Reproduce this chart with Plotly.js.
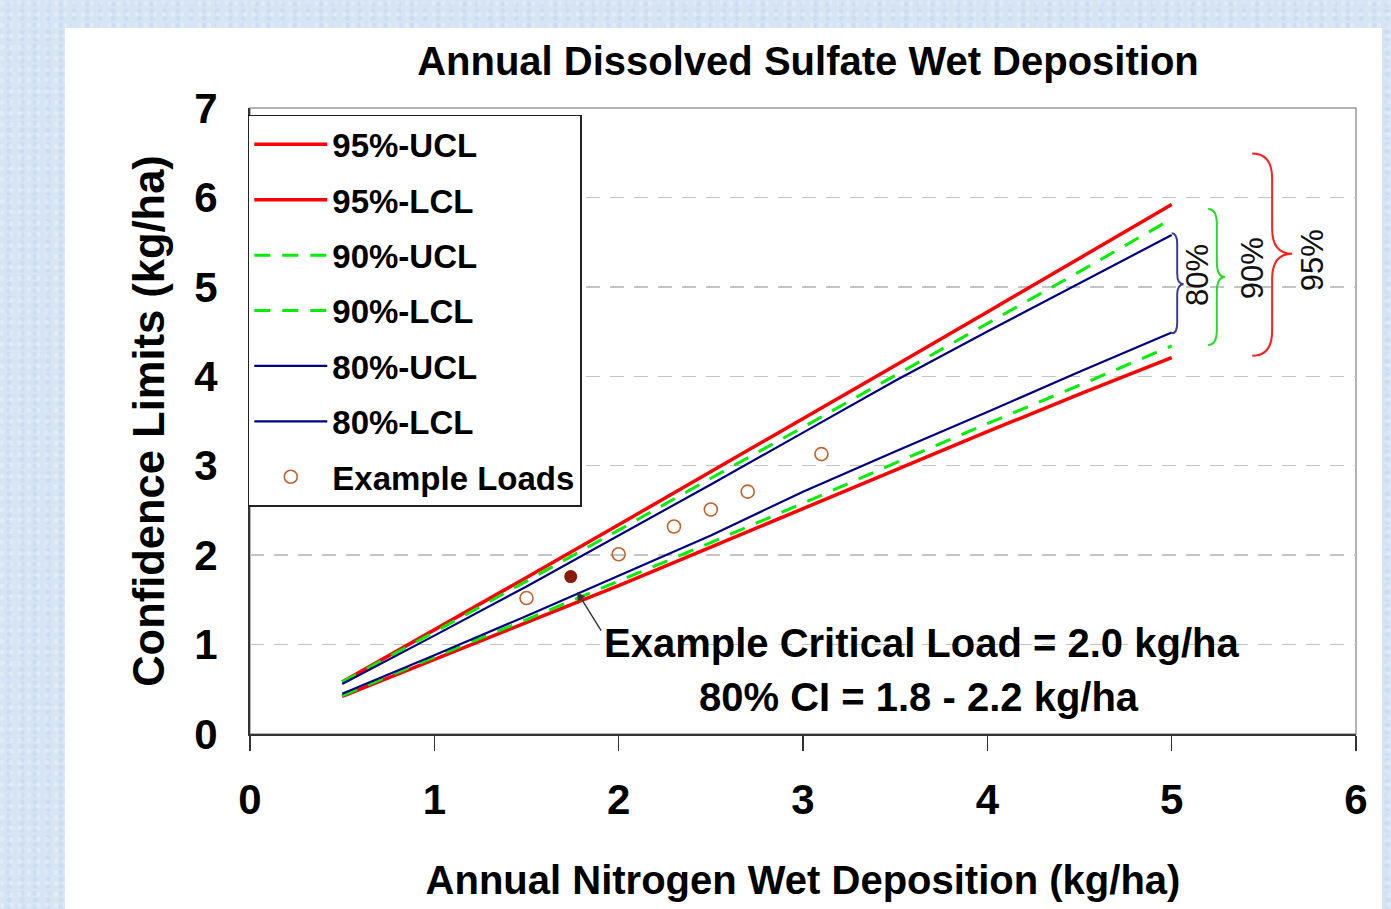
<!DOCTYPE html>
<html>
<head>
<meta charset="utf-8">
<script src="https://cdn.plot.ly/plotly-3.0.1.min.js"></script>
<style>
  html, body { margin: 0; padding: 0; width: 1391px; height: 909px; overflow: hidden;
    background: #d7e4f4; }
  body { background-image:
    radial-gradient(circle at 20% 30%, rgba(255,255,255,0.25) 0 2px, transparent 3px),
    radial-gradient(circle at 70% 60%, rgba(170,195,230,0.25) 0 2px, transparent 3px);
    background-size: 9px 11px, 13px 7px; }
  #chart { position: absolute; left: 65px; top: 28px; width: 1317px; height: 881px; background: #fff; }
</style>
</head>
<body>
<div id="chart"></div>
<script>
// ---- data ----
const nDep = [0.5, 1, 1.5, 2, 2.5, 3, 3.5, 4, 4.5, 5];
const ucl95 = [0.58, 1.16, 1.75, 2.34, 2.93, 3.52, 4.12, 4.72, 5.32, 5.92];
const lcl95 = [0.42, 0.83, 1.24, 1.66, 2.09, 2.52, 2.96, 3.38, 3.80, 4.21];
const ucl90 = [0.58, 1.14, 1.71, 2.28, 2.86, 3.43, 4.01, 4.59, 5.17, 5.76];
const lcl90 = [0.43, 0.86, 1.28, 1.71, 2.14, 2.58, 3.03, 3.47, 3.90, 4.34];
const ucl80 = [0.56, 1.10, 1.65, 2.22, 2.79, 3.37, 3.95, 4.50, 5.04, 5.58];
const lcl80 = [0.45, 0.88, 1.32, 1.77, 2.22, 2.71, 3.16, 3.60, 4.05, 4.49];
const loadsX = [1.5, 2.0, 2.3, 2.5, 2.7, 3.1];
const loadsY = [1.52, 2.01, 2.32, 2.51, 2.71, 3.13];
const critX = [1.74];
const critY = [1.76];
const xTicks = [0, 1, 2, 3, 4, 5, 6];
const yTicks = [0, 1, 2, 3, 4, 5, 6, 7];
const seriesNames = ['95%-UCL', '95%-LCL', '90%-UCL', '90%-LCL', '80%-UCL', '80%-LCL', 'Example Loads'];

const SANS = '"Liberation Sans", Arial, sans-serif';

function line(i, y, color, width, dash) {
  return { x: nDep, y: y, name: seriesNames[i], legendgroup: 'g' + i, type: 'scatter', mode: 'lines',
    line: { color: color, width: width, dash: dash || 'solid' }, hoverinfo: 'skip' };
}
const GREEN_DASH = '16px,12px';
const traces = [
  line(0, ucl95, '#ff0000', 3.5),
  line(1, lcl95, '#ff0000', 3.5),
  line(2, ucl90, '#00ee00', 3, GREEN_DASH),
  line(3, lcl90, '#00ee00', 3, GREEN_DASH),
  line(4, ucl80, '#000080', 2.2),
  line(5, lcl80, '#000080', 2.2),
  { x: loadsX, y: loadsY, name: seriesNames[6], legendgroup: 'g6', type: 'scatter', mode: 'markers',
    marker: { symbol: 'circle-open', size: 13, color: '#c0622a', line: { width: 1.6, color: '#c0622a' } } },
  { x: critX, y: critY, name: 'Example Critical Load', type: 'scatter', mode: 'markers', showlegend: false,
    marker: { symbol: 'circle', size: 13, color: '#8a1a08' } }
];

function bracePath(x0, xv, xt, yTop, yMid, yBot, r) {
  return `M${x0},${yTop} Q${xv},${yTop} ${xv},${yTop - r} L${xv},${yMid + r} ` +
         `Q${xv},${yMid} ${xt},${yMid} Q${xv},${yMid} ${xv},${yMid - r} ` +
         `L${xv},${yBot + r} Q${xv},${yBot} ${x0},${yBot}`;
}
const last = a => a[a.length - 1];

const shapes = [
  { type: 'rect', xref: 'paper', yref: 'paper', x0: 0, x1: 1, y0: 0, y1: 1,
    line: { color: '#9a9a9a', width: 1.5 }, layer: 'below' },
  { type: 'path', xref: 'x', yref: 'y', line: { color: '#3a3a9a', width: 2 },
    path: bracePath(5.0, 5.03, 5.065, last(ucl80) + 0.02, 5.03, last(lcl80) - 0.01, 0.12) },
  { type: 'path', xref: 'x', yref: 'y', line: { color: '#22dd22', width: 2 },
    path: bracePath(5.198, 5.245, 5.29, 5.87, 5.11, 4.35, 0.17) },
  { type: 'path', xref: 'x', yref: 'y', line: { color: '#ff2020', width: 2 },
    path: bracePath(5.437, 5.545, 5.654, 6.49, 5.37, 4.23, 0.28) }
];

const annotations = [
  { x: critX[0] + 0.034, y: 1.59, ax: 1.91, ay: 1.14, axref: 'x', ayref: 'y', xref: 'x', yref: 'y',
    text: '', showarrow: true, arrowhead: 2, arrowsize: 1.2, arrowwidth: 1.4, arrowcolor: '#333' },
  { x: 1.91, y: 1.02, xref: 'x', yref: 'y', xanchor: 'left', yanchor: 'middle', showarrow: false,
    text: 'Example Critical Load = 2.0 kg/ha', font: { family: SANS, size: 40, color: '#000', weight: 'bold' } },
  { x: 3.63, y: 0.41, xref: 'x', yref: 'y', xanchor: 'center', yanchor: 'middle', showarrow: false,
    text: '80% CI = 1.8 - 2.2 kg/ha', font: { family: SANS, size: 40, color: '#000', weight: 'bold' } },
  { x: 5.144, y: 5.134, xref: 'x', yref: 'y', textangle: -90, showarrow: false,
    text: '80%', font: { family: SANS, size: 31, color: '#111' } },
  { x: 5.437, y: 5.21, xref: 'x', yref: 'y', textangle: -90, showarrow: false,
    text: '90%', font: { family: SANS, size: 31, color: '#111' } },
  { x: 5.762, y: 5.30, xref: 'x', yref: 'y', textangle: -90, showarrow: false,
    text: '95%', font: { family: SANS, size: 31, color: '#111' } }
];

const layout = {
  width: 1317, height: 881,
  margin: { l: 185, r: 26, t: 80, b: 175, pad: 0 },
  paper_bgcolor: '#ffffff', plot_bgcolor: '#ffffff',
  title: { text: 'Annual Dissolved Sulfate Wet Deposition', xref: 'paper', x: 0.5045,
    yref: 'container', y: 1 - 33 / 881, yanchor: 'middle',
    font: { family: SANS, size: 40, color: '#000', weight: 'bold' } },
  showlegend: true,
  legend: { x: -0.002, y: 0.989, xanchor: 'left', yanchor: 'top', bgcolor: '#ffffff',
    bordercolor: '#222', borderwidth: 1.5, itemwidth: 73, tracegroupgap: 9.5,
    font: { family: SANS, size: 33, color: '#000', weight: 'bold' } },
  xaxis: { range: [0, 6], tickvals: xTicks, ticktext: xTicks.map(String), showgrid: false, zeroline: false,
    showline: true, linecolor: '#333', linewidth: 2, ticks: 'outside', ticklen: 15, tickwidth: 1.5,
    tickcolor: '#333', ticklabelstandoff: 13,
    tickfont: { family: SANS, size: 42, color: '#000', weight: 'bold' },
    title: { text: 'Annual Nitrogen Wet Deposition (kg/ha)', standoff: 44,
      font: { family: SANS, size: 40, color: '#000', weight: 'bold' } } },
  yaxis: { range: [0, 7], tickvals: yTicks, ticktext: yTicks.map(String), zeroline: false,
    showline: true, linecolor: '#333', linewidth: 2, ticks: '', ticklabelstandoff: 22,
    showgrid: true, gridcolor: '#c4c4c4', gridwidth: 1.5, griddash: '14px,10px',
    tickfont: { family: SANS, size: 42, color: '#000', weight: 'bold' },
    title: { text: 'Confidence Limits (kg/ha)', standoff: 16,
      font: { family: SANS, size: 43.5, color: '#000', weight: 'bold' } } },
  shapes: shapes,
  annotations: annotations
};

Plotly.newPlot('chart', traces, layout, { staticPlot: true, displayModeBar: false });
</script>
</body>
</html>
